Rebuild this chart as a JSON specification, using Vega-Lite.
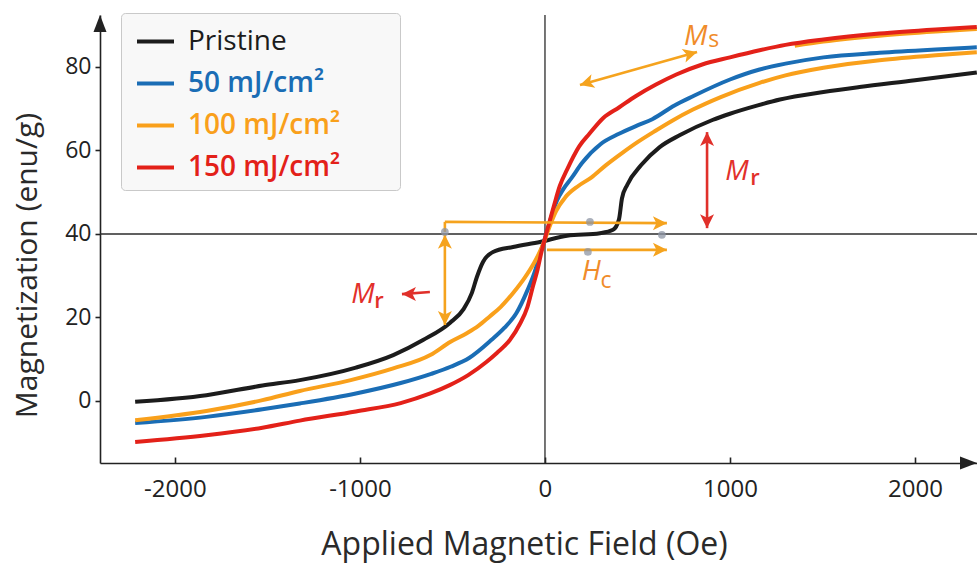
{
  "$schema": "https://vega.github.io/schema/vega-lite/v6.json",
  "width": 877,
  "height": 448,
  "autosize": {"type": "none"},
  "padding": {"left": 100, "top": 15, "right": 0, "bottom": 102},
  "background": "#ffffff",
  "config": {
    "font": "Open Sans",
    "view": {"stroke": null},
    "axis": {"grid": false, "domainColor": "#222222", "domainWidth": 1.6, "tickColor": "#222222", "tickWidth": 1.6, "labelColor": "#222222", "titleColor": "#2a2a2a", "titleFontWeight": "normal", "labelFont": "Open Sans", "titleFont": "Open Sans"},
    "axisX": {"labelFontSize": 24, "titleFontSize": 32, "tickSize": -6, "labelPadding": 20, "titlePadding": 28, "titleX": 424, "labelExpr": "datum.value < 0 ? '-' + abs(datum.value) : '' + datum.value"},
    "axisY": {"labelFontSize": 23, "titleFontSize": 30, "tickSize": 5, "labelPadding": 4, "titlePadding": 22, "titleY": 250}
  },
  "datasets": {
    "curves": [
      {"sample": "Pristine", "x": -2215, "y": -0.2},
      {"sample": "Pristine", "x": -1830, "y": 1.4},
      {"sample": "Pristine", "x": -1527, "y": 3.7},
      {"sample": "Pristine", "x": -1325, "y": 5},
      {"sample": "Pristine", "x": -1022, "y": 8},
      {"sample": "Pristine", "x": -820, "y": 11},
      {"sample": "Pristine", "x": -659, "y": 14.6},
      {"sample": "Pristine", "x": -514, "y": 18.7},
      {"sample": "Pristine", "x": -440, "y": 22},
      {"sample": "Pristine", "x": -395, "y": 25.9},
      {"sample": "Pristine", "x": -368, "y": 29.7},
      {"sample": "Pristine", "x": -335, "y": 33.3},
      {"sample": "Pristine", "x": -281, "y": 35.7},
      {"sample": "Pristine", "x": -173, "y": 36.9},
      {"sample": "Pristine", "x": -27, "y": 38.1},
      {"sample": "Pristine", "x": 119, "y": 39.6},
      {"sample": "Pristine", "x": 297, "y": 40.2},
      {"sample": "Pristine", "x": 368, "y": 41},
      {"sample": "Pristine", "x": 400, "y": 43.5},
      {"sample": "Pristine", "x": 416, "y": 48.5},
      {"sample": "Pristine", "x": 445, "y": 51.8},
      {"sample": "Pristine", "x": 520, "y": 56.5},
      {"sample": "Pristine", "x": 620, "y": 60.8},
      {"sample": "Pristine", "x": 730, "y": 63.7},
      {"sample": "Pristine", "x": 905, "y": 67.3},
      {"sample": "Pristine", "x": 1000, "y": 68.8},
      {"sample": "Pristine", "x": 1150, "y": 70.8},
      {"sample": "Pristine", "x": 1270, "y": 72.2},
      {"sample": "Pristine", "x": 1505, "y": 74},
      {"sample": "Pristine", "x": 1700, "y": 75.2},
      {"sample": "Pristine", "x": 2000, "y": 76.8},
      {"sample": "Pristine", "x": 2334, "y": 78.7},
      {"sample": "50 mJ/cm²", "x": -2215, "y": -5.3},
      {"sample": "50 mJ/cm²", "x": -1830, "y": -3.8},
      {"sample": "50 mJ/cm²", "x": -1527, "y": -2},
      {"sample": "50 mJ/cm²", "x": -1325, "y": -0.6},
      {"sample": "50 mJ/cm²", "x": -1022, "y": 1.8},
      {"sample": "50 mJ/cm²", "x": -780, "y": 4.3},
      {"sample": "50 mJ/cm²", "x": -615, "y": 6.5},
      {"sample": "50 mJ/cm²", "x": -510, "y": 8.2},
      {"sample": "50 mJ/cm²", "x": -410, "y": 10.3},
      {"sample": "50 mJ/cm²", "x": -290, "y": 14.6},
      {"sample": "50 mJ/cm²", "x": -220, "y": 17.5},
      {"sample": "50 mJ/cm²", "x": -155, "y": 21},
      {"sample": "50 mJ/cm²", "x": -95, "y": 26.5},
      {"sample": "50 mJ/cm²", "x": -55, "y": 31},
      {"sample": "50 mJ/cm²", "x": -25, "y": 35.5},
      {"sample": "50 mJ/cm²", "x": 0, "y": 39},
      {"sample": "50 mJ/cm²", "x": 30, "y": 43.5},
      {"sample": "50 mJ/cm²", "x": 65, "y": 48},
      {"sample": "50 mJ/cm²", "x": 100, "y": 50.8},
      {"sample": "50 mJ/cm²", "x": 145, "y": 53.5},
      {"sample": "50 mJ/cm²", "x": 200, "y": 57},
      {"sample": "50 mJ/cm²", "x": 300, "y": 61.5},
      {"sample": "50 mJ/cm²", "x": 400, "y": 64},
      {"sample": "50 mJ/cm²", "x": 500, "y": 66},
      {"sample": "50 mJ/cm²", "x": 580, "y": 67.5},
      {"sample": "50 mJ/cm²", "x": 700, "y": 70.8},
      {"sample": "50 mJ/cm²", "x": 800, "y": 73},
      {"sample": "50 mJ/cm²", "x": 1000, "y": 77},
      {"sample": "50 mJ/cm²", "x": 1160, "y": 79.4},
      {"sample": "50 mJ/cm²", "x": 1300, "y": 80.8},
      {"sample": "50 mJ/cm²", "x": 1505, "y": 82.3},
      {"sample": "50 mJ/cm²", "x": 1808, "y": 83.4},
      {"sample": "50 mJ/cm²", "x": 2112, "y": 84.2},
      {"sample": "50 mJ/cm²", "x": 2334, "y": 84.7},
      {"sample": "100 mJ/cm²", "x": -2215, "y": -4.6},
      {"sample": "100 mJ/cm²", "x": -1830, "y": -2.4},
      {"sample": "100 mJ/cm²", "x": -1527, "y": 0.2},
      {"sample": "100 mJ/cm²", "x": -1325, "y": 2.4},
      {"sample": "100 mJ/cm²", "x": -1050, "y": 5},
      {"sample": "100 mJ/cm²", "x": -820, "y": 7.8},
      {"sample": "100 mJ/cm²", "x": -620, "y": 11},
      {"sample": "100 mJ/cm²", "x": -510, "y": 14.2},
      {"sample": "100 mJ/cm²", "x": -420, "y": 16.3},
      {"sample": "100 mJ/cm²", "x": -360, "y": 18},
      {"sample": "100 mJ/cm²", "x": -300, "y": 20.2},
      {"sample": "100 mJ/cm²", "x": -240, "y": 22.5},
      {"sample": "100 mJ/cm²", "x": -170, "y": 26},
      {"sample": "100 mJ/cm²", "x": -110, "y": 29.5},
      {"sample": "100 mJ/cm²", "x": -60, "y": 33},
      {"sample": "100 mJ/cm²", "x": -25, "y": 36},
      {"sample": "100 mJ/cm²", "x": 0, "y": 38.7},
      {"sample": "100 mJ/cm²", "x": 25, "y": 41.8},
      {"sample": "100 mJ/cm²", "x": 60, "y": 45.5},
      {"sample": "100 mJ/cm²", "x": 110, "y": 48.8},
      {"sample": "100 mJ/cm²", "x": 180, "y": 51.5},
      {"sample": "100 mJ/cm²", "x": 250, "y": 53.5},
      {"sample": "100 mJ/cm²", "x": 330, "y": 56.5},
      {"sample": "100 mJ/cm²", "x": 420, "y": 59.5},
      {"sample": "100 mJ/cm²", "x": 500, "y": 62},
      {"sample": "100 mJ/cm²", "x": 600, "y": 64.8},
      {"sample": "100 mJ/cm²", "x": 690, "y": 67.2},
      {"sample": "100 mJ/cm²", "x": 800, "y": 69.8},
      {"sample": "100 mJ/cm²", "x": 950, "y": 72.8},
      {"sample": "100 mJ/cm²", "x": 1160, "y": 76.2},
      {"sample": "100 mJ/cm²", "x": 1300, "y": 78},
      {"sample": "100 mJ/cm²", "x": 1505, "y": 79.8},
      {"sample": "100 mJ/cm²", "x": 1808, "y": 81.6},
      {"sample": "100 mJ/cm²", "x": 2112, "y": 82.8},
      {"sample": "100 mJ/cm²", "x": 2334, "y": 83.5},
      {"sample": "150 mJ/cm²", "x": -2215, "y": -9.8},
      {"sample": "150 mJ/cm²", "x": -1830, "y": -8.2},
      {"sample": "150 mJ/cm²", "x": -1527, "y": -6.4},
      {"sample": "150 mJ/cm²", "x": -1325, "y": -4.7},
      {"sample": "150 mJ/cm²", "x": -1022, "y": -2.5},
      {"sample": "150 mJ/cm²", "x": -780, "y": -0.5},
      {"sample": "150 mJ/cm²", "x": -620, "y": 1.8},
      {"sample": "150 mJ/cm²", "x": -515, "y": 3.8},
      {"sample": "150 mJ/cm²", "x": -415, "y": 6.2},
      {"sample": "150 mJ/cm²", "x": -315, "y": 9.4},
      {"sample": "150 mJ/cm²", "x": -260, "y": 11.5},
      {"sample": "150 mJ/cm²", "x": -190, "y": 14.6},
      {"sample": "150 mJ/cm²", "x": -135, "y": 18.5},
      {"sample": "150 mJ/cm²", "x": -95, "y": 22.5},
      {"sample": "150 mJ/cm²", "x": -65, "y": 27.5},
      {"sample": "150 mJ/cm²", "x": -40, "y": 31.5},
      {"sample": "150 mJ/cm²", "x": -20, "y": 35.5},
      {"sample": "150 mJ/cm²", "x": 0, "y": 39},
      {"sample": "150 mJ/cm²", "x": 25, "y": 43},
      {"sample": "150 mJ/cm²", "x": 50, "y": 47},
      {"sample": "150 mJ/cm²", "x": 80, "y": 51.5},
      {"sample": "150 mJ/cm²", "x": 120, "y": 55.5},
      {"sample": "150 mJ/cm²", "x": 185, "y": 61},
      {"sample": "150 mJ/cm²", "x": 240, "y": 64},
      {"sample": "150 mJ/cm²", "x": 315, "y": 67.8},
      {"sample": "150 mJ/cm²", "x": 400, "y": 70.3},
      {"sample": "150 mJ/cm²", "x": 490, "y": 73},
      {"sample": "150 mJ/cm²", "x": 600, "y": 75.8},
      {"sample": "150 mJ/cm²", "x": 710, "y": 78.2},
      {"sample": "150 mJ/cm²", "x": 850, "y": 80.6},
      {"sample": "150 mJ/cm²", "x": 1000, "y": 82.3},
      {"sample": "150 mJ/cm²", "x": 1160, "y": 84},
      {"sample": "150 mJ/cm²", "x": 1300, "y": 85.3},
      {"sample": "150 mJ/cm²", "x": 1505, "y": 86.6},
      {"sample": "150 mJ/cm²", "x": 1808, "y": 88},
      {"sample": "150 mJ/cm²", "x": 2112, "y": 89},
      {"sample": "150 mJ/cm²", "x": 2334, "y": 89.6}
    ],
    "orangeUpper": [
      {"x": 1350, "y": 85.1},
      {"x": 1505, "y": 86.1},
      {"x": 1808, "y": 87.5},
      {"x": 2112, "y": 88.5},
      {"x": 2334, "y": 89.1}
    ],
    "segO": [
      {"x": 189, "y": 75.7, "x2": 822, "y2": 83.6},
      {"x": -541, "y": 39.8, "x2": -541, "y2": 18.2},
      {"x": -541, "y": 40.5, "x2": -541, "y2": 42.9},
      {"x": -541, "y": 42.9, "x2": 659, "y2": 42.6},
      {"x": 11, "y": 36.2, "x2": 659, "y2": 36.2}
    ],
    "segR": [
      {"x": 876, "y": 64.4, "x2": 876, "y2": 41.4},
      {"x": -622, "y": 26.1, "x2": -773, "y2": 25.6}
    ],
    "headUpO": [{"x": -541, "y": 39.8}],
    "headDownO": [{"x": -541, "y": 18.2}],
    "headRightO": [{"x": 659, "y": 42.6}, {"x": 659, "y": 36.2}],
    "headMsR": [{"x": 822, "y": 83.6}],
    "headMsL": [{"x": 189, "y": 75.7}],
    "headUpR": [{"x": 876, "y": 64.4}],
    "headDownR": [{"x": 876, "y": 41.4}],
    "headLeftR": [{"x": -773, "y": 25.6}],
    "dots": [
      {"x": -541, "y": 40.5},
      {"x": 243, "y": 42.9},
      {"x": 232, "y": 35.7},
      {"x": 632, "y": 39.8}
    ],
    "txtObig": [{"t": "M", "x": 815, "y": 85.3}, {"t": "H", "x": 250, "y": 29}],
    "txtOsmall": [{"t": "s", "x": 912, "y": 84.8}, {"t": "c", "x": 330, "y": 27}],
    "txtRbig": [{"t": "M", "x": 1038, "y": 52.9}, {"t": "M", "x": -984, "y": 23.5}],
    "txtRsmall": [{"t": "r", "x": 1135, "y": 51.7}, {"t": "r", "x": -897, "y": 22.3}]
  },
  "layer": [
    {
      "data": {"values": [{}]},
      "mark": {"type": "rule", "color": "#2b2b2b", "strokeWidth": 1.3},
      "encoding": {"x": {"datum": 0, "type": "quantitative", "scale": {"domain": [-2405, 2335], "nice": false, "zero": false}, "axis": {"title": "Applied Magnetic Field (Oe)", "values": [-2000, -1000, 0, 1000, 2000]}}}
    },
    {
      "data": {"values": [{}]},
      "mark": {"type": "rule", "color": "#2b2b2b", "strokeWidth": 1.3},
      "encoding": {"y": {"datum": 40, "type": "quantitative", "scale": {"domain": [-14.85, 92.45], "nice": false, "zero": false}, "axis": {"title": "Magnetization (enu/g)", "values": [0, 20, 40, 60, 80]}}}
    },
    {
      "data": {"name": "orangeUpper"},
      "mark": {"type": "line", "strokeWidth": 4, "interpolate": "monotone", "color": "#f9a01b"},
      "encoding": {
        "x": {"field": "x", "type": "quantitative", "scale": {"domain": [-2405, 2335], "nice": false, "zero": false}, "axis": {"title": "Applied Magnetic Field (Oe)", "values": [-2000, -1000, 0, 1000, 2000]}},
        "y": {"field": "y", "type": "quantitative", "scale": {"domain": [-14.85, 92.45], "nice": false, "zero": false}, "axis": {"title": "Magnetization (enu/g)", "values": [0, 20, 40, 60, 80]}}
      }
    },
    {
      "data": {"name": "curves"},
      "mark": {"type": "line", "strokeWidth": 4, "interpolate": "monotone"},
      "encoding": {
        "x": {"field": "x", "type": "quantitative", "scale": {"domain": [-2405, 2335], "nice": false, "zero": false}, "axis": {"title": "Applied Magnetic Field (Oe)", "values": [-2000, -1000, 0, 1000, 2000]}},
        "y": {"field": "y", "type": "quantitative", "scale": {"domain": [-14.85, 92.45], "nice": false, "zero": false}, "axis": {"title": "Magnetization (enu/g)", "values": [0, 20, 40, 60, 80]}},
        "color": {"field": "sample", "type": "nominal",
          "scale": {"domain": ["Pristine", "50 mJ/cm²", "100 mJ/cm²", "150 mJ/cm²"], "range": ["#1c1c1c", "#1a6db5", "#f9a01b", "#e32119"]},
          "legend": {"title": null, "orient": "none", "legendX": 21, "legendY": -2, "symbolType": "stroke", "symbolStrokeWidth": 4, "symbolSize": 1369, "symbolOffset": 6, "labelFontSize": 28, "labelFont": "Open Sans", "labelOffset": 12, "labelLimit": 500, "rowPadding": 7, "padding": 8, "fillColor": "#f8f8f8", "strokeColor": "#c9c9c9", "cornerRadius": 4,
            "encode": {"labels": {"update": {"text": {"signal": "datum.label + '\u00a0\u00a0\u00a0\u00a0\u00a0\u00a0\u00a0\u200b'"}, "fill": {"scale": "color", "field": "value"}, "fontWeight": {"signal": "datum.value === 'Pristine' ? 500 : 600"}}}}}}
      }
    },
    {
      "data": {"name": "segO"},
      "mark": {"type": "rule", "color": "#f5a31e", "strokeWidth": 2.6},
      "encoding": {
        "x": {"field": "x", "type": "quantitative", "axis": {"title": "Applied Magnetic Field (Oe)", "values": [-2000, -1000, 0, 1000, 2000]}},
        "y": {"field": "y", "type": "quantitative", "axis": {"title": "Magnetization (enu/g)", "values": [0, 20, 40, 60, 80]}},
        "x2": {"field": "x2"},
        "y2": {"field": "y2"}
      }
    },
    {
      "data": {"name": "segR"},
      "mark": {"type": "rule", "color": "#e0302a", "strokeWidth": 2.6},
      "encoding": {
        "x": {"field": "x", "type": "quantitative", "axis": {"title": "Applied Magnetic Field (Oe)", "values": [-2000, -1000, 0, 1000, 2000]}},
        "y": {"field": "y", "type": "quantitative", "axis": {"title": "Magnetization (enu/g)", "values": [0, 20, 40, 60, 80]}},
        "x2": {"field": "x2"},
        "y2": {"field": "y2"}
      }
    },
    {"data": {"name": "headUpO"}, "mark": {"type": "point", "shape": "M0,0L0.7,1.4L0,1.05L-0.7,1.4Z", "size": 400, "filled": true, "opacity": 1, "color": "#f5a31e", "angle": 0},
      "encoding": {"x": {"field": "x", "type": "quantitative"}, "y": {"field": "y", "type": "quantitative"}}},
    {"data": {"name": "headDownO"}, "mark": {"type": "point", "shape": "M0,0L0.7,1.4L0,1.05L-0.7,1.4Z", "size": 400, "filled": true, "opacity": 1, "color": "#f5a31e", "angle": 180},
      "encoding": {"x": {"field": "x", "type": "quantitative"}, "y": {"field": "y", "type": "quantitative"}}},
    {"data": {"name": "headRightO"}, "mark": {"type": "point", "shape": "M0,0L0.7,1.4L0,1.05L-0.7,1.4Z", "size": 400, "filled": true, "opacity": 1, "color": "#f5a31e", "angle": 90},
      "encoding": {"x": {"field": "x", "type": "quantitative"}, "y": {"field": "y", "type": "quantitative"}}},
    {"data": {"name": "headMsR"}, "mark": {"type": "point", "shape": "M0,0L0.7,1.4L0,1.05L-0.7,1.4Z", "size": 400, "filled": true, "opacity": 1, "color": "#f5a31e", "angle": 74},
      "encoding": {"x": {"field": "x", "type": "quantitative"}, "y": {"field": "y", "type": "quantitative"}}},
    {"data": {"name": "headMsL"}, "mark": {"type": "point", "shape": "M0,0L0.7,1.4L0,1.05L-0.7,1.4Z", "size": 400, "filled": true, "opacity": 1, "color": "#f5a31e", "angle": 254},
      "encoding": {"x": {"field": "x", "type": "quantitative"}, "y": {"field": "y", "type": "quantitative"}}},
    {"data": {"name": "headUpR"}, "mark": {"type": "point", "shape": "M0,0L0.7,1.4L0,1.05L-0.7,1.4Z", "size": 400, "filled": true, "opacity": 1, "color": "#e0302a", "angle": 0},
      "encoding": {"x": {"field": "x", "type": "quantitative"}, "y": {"field": "y", "type": "quantitative"}}},
    {"data": {"name": "headDownR"}, "mark": {"type": "point", "shape": "M0,0L0.7,1.4L0,1.05L-0.7,1.4Z", "size": 400, "filled": true, "opacity": 1, "color": "#e0302a", "angle": 180},
      "encoding": {"x": {"field": "x", "type": "quantitative"}, "y": {"field": "y", "type": "quantitative"}}},
    {"data": {"name": "headLeftR"}, "mark": {"type": "point", "shape": "M0,0L0.7,1.4L0,1.05L-0.7,1.4Z", "size": 400, "filled": true, "opacity": 1, "color": "#e0302a", "angle": 270},
      "encoding": {"x": {"field": "x", "type": "quantitative"}, "y": {"field": "y", "type": "quantitative"}}},
    {"data": {"name": "dots"}, "mark": {"type": "point", "size": 60, "filled": true, "opacity": 0.75, "color": "#8e96a4"},
      "encoding": {"x": {"field": "x", "type": "quantitative"}, "y": {"field": "y", "type": "quantitative"}}},
    {"data": {"name": "txtObig"}, "mark": {"type": "text", "font": "Open Sans", "fontSize": 28, "fontStyle": "italic", "color": "#f08c2a", "align": "center", "baseline": "alphabetic"},
      "encoding": {"x": {"field": "x", "type": "quantitative"}, "y": {"field": "y", "type": "quantitative"}, "text": {"field": "t"}}},
    {"data": {"name": "txtOsmall"}, "mark": {"type": "text", "font": "Open Sans", "fontSize": 23, "color": "#f08c2a", "align": "center", "baseline": "alphabetic"},
      "encoding": {"x": {"field": "x", "type": "quantitative"}, "y": {"field": "y", "type": "quantitative"}, "text": {"field": "t"}}},
    {"data": {"name": "txtRbig"}, "mark": {"type": "text", "font": "Open Sans", "fontSize": 28, "fontStyle": "italic", "color": "#e2302a", "align": "center", "baseline": "alphabetic"},
      "encoding": {"x": {"field": "x", "type": "quantitative"}, "y": {"field": "y", "type": "quantitative"}, "text": {"field": "t"}}},
    {"data": {"name": "txtRsmall"}, "mark": {"type": "text", "font": "Open Sans", "fontSize": 22, "fontWeight": 600, "color": "#e2302a", "align": "center", "baseline": "alphabetic"},
      "encoding": {"x": {"field": "x", "type": "quantitative"}, "y": {"field": "y", "type": "quantitative"}, "text": {"field": "t"}}},
    {"data": {"values": [{}]}, "mark": {"type": "point", "shape": "M0,0L0.65,1.7L-0.65,1.7Z", "size": 400, "filled": true, "opacity": 1, "color": "#222222", "angle": 0},
      "encoding": {"x": {"datum": -2405, "type": "quantitative"}, "y": {"datum": 92.45, "type": "quantitative"}}},
    {"data": {"values": [{}]}, "mark": {"type": "point", "shape": "M0,0L0.65,1.7L-0.65,1.7Z", "size": 400, "filled": true, "opacity": 1, "color": "#222222", "angle": 90},
      "encoding": {"x": {"datum": 2335, "type": "quantitative"}, "y": {"datum": -14.85, "type": "quantitative"}}}
  ]
}
